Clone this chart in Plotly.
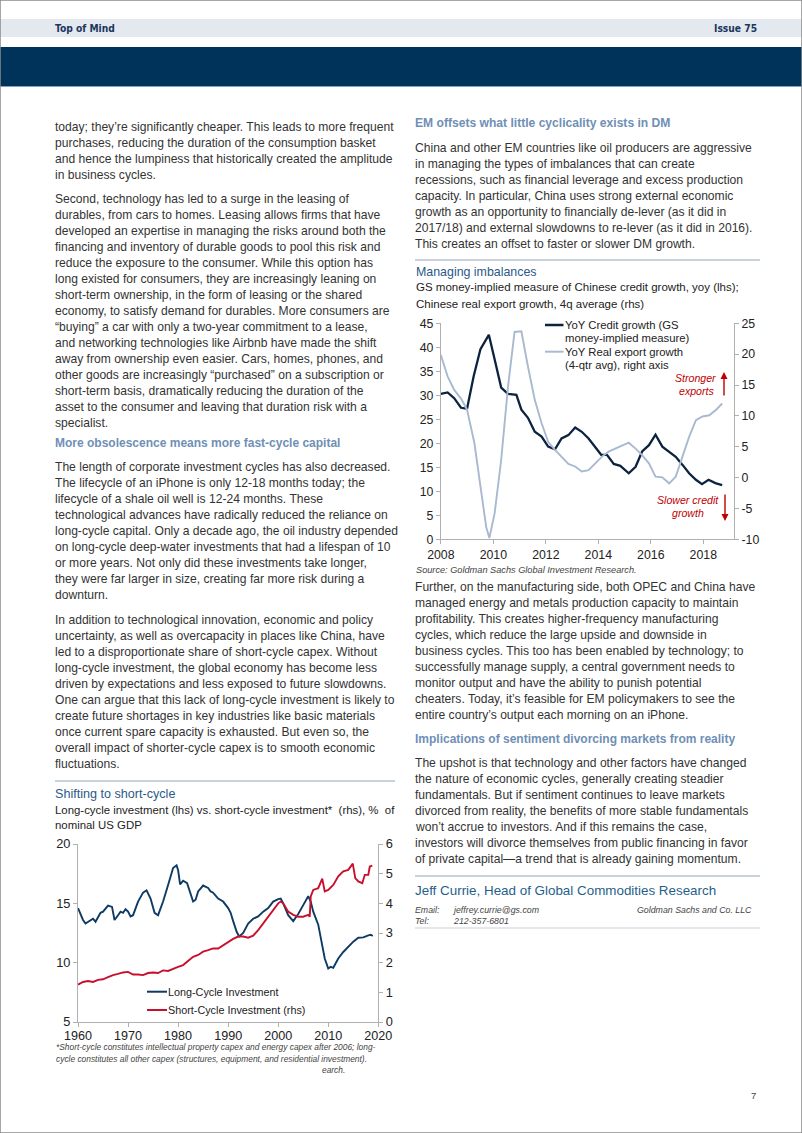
import plotly.graph_objects as go

W, H = 802, 1133
def X(px): return px / W
def Y(py): return 1 - py / H

# ---------------- data: chart 1 (Managing imbalances) ----------------
credit_x = [2008.00, 2008.26, 2008.51, 2008.77, 2009.00, 2009.25, 2009.51, 2009.66, 2009.83,
            2010.05, 2010.30, 2010.56, 2010.88, 2011.07, 2011.32, 2011.58, 2011.84, 2012.09,
            2012.35, 2012.60, 2012.86, 2013.12, 2013.37, 2013.63, 2013.88, 2014.11, 2014.33,
            2014.59, 2014.84, 2015.16, 2015.42, 2015.67, 2015.93, 2016.18, 2016.44, 2016.70,
            2016.95, 2017.21, 2017.46, 2017.72, 2017.95, 2018.20, 2018.46, 2018.72]
credit_growth = [30.3, 30.6, 29.4, 27.4, 27.2, 33.9, 39.6, 41.0, 42.6,
                 37.5, 31.6, 30.3, 30.1, 27.0, 25.3, 22.4, 21.4, 19.3,
                 18.75, 21.0, 21.7, 23.3, 22.4, 21.0, 19.3, 17.6, 17.6,
                 15.7, 15.3, 13.75, 15.1, 18.3, 19.6, 21.8, 19.3, 18.3,
                 17.2, 15.5, 13.75, 12.4, 11.5, 12.4, 11.7, 11.3]
export_x = [2008.00, 2008.26, 2008.51, 2008.77, 2009.00, 2009.28, 2009.53, 2009.73, 2009.85,
            2010.05, 2010.30, 2010.56, 2010.81, 2011.07, 2011.32, 2011.58, 2011.84, 2012.09,
            2012.35, 2012.60, 2012.86, 2013.12, 2013.37, 2013.63, 2013.88, 2014.14, 2014.39,
            2014.65, 2014.91, 2015.16, 2015.42, 2015.67, 2015.93, 2016.18, 2016.44, 2016.70,
            2016.95, 2017.21, 2017.46, 2017.72, 2017.97, 2018.23, 2018.49, 2018.72]
export_growth = [19.9, 16.4, 14.2, 12.8, 11.0, 5.6, -2.0, -8.0, -9.8,
                 -5.8, 2.85, 14.7, 23.6, 23.7, 18.0, 12.6, 8.8, 5.8,
                 4.5, 3.4, 2.2, 1.8, 1.0, 1.2, 2.3, 3.4, 4.2,
                 4.7, 5.3, 5.65, 4.7, 3.65, 2.3, 0.15, 0.04, -0.93,
                 0.15, 3.4, 6.6, 9.3, 9.9, 10.1, 11.0, 12.0]
c1_xticks = [2008, 2010, 2012, 2014, 2016, 2018]
c1_xticklabels = ["2008", "2010", "2012", "2014", "2016", "2018"]
c1_lticks = [0, 5, 10, 15, 20, 25, 30, 35, 40, 45]
c1_lticklabels = ["0", "5", "10", "15", "20", "25", "30", "35", "40", "45"]
c1_rticks = [-10, -5, 0, 5, 10, 15, 20, 25]
c1_rticklabels = ["-10", "-5", "0", "5", "10", "15", "20", "25"]

# ---------------- data: chart 2 (Shifting to short-cycle) ----------------
long_x = [1960, 1961, 1961.5, 1962.5, 1963, 1963.5, 1964.5, 1965, 1966, 1966.8, 1967.3, 1968,
          1968.5, 1969, 1969.5, 1970, 1970.5, 1971, 1972, 1973, 1973.7, 1974.5, 1975.3, 1976,
          1977, 1978, 1979, 1979.7, 1980, 1980.4, 1981, 1981.8, 1982.5, 1983, 1983.5, 1984,
          1985, 1986, 1986.5, 1987, 1988, 1989, 1990, 1990.5, 1991, 1991.7, 1992.2, 1993,
          1994, 1995, 1996, 1997, 1998, 1999, 2000, 2000.5, 2001, 2002, 2003, 2004, 2005,
          2006, 2006.5, 2007, 2008, 2008.7, 2009.3, 2010, 2010.5, 2011, 2012, 2013, 2014,
          2015, 2016, 2017, 2018, 2018.5, 2018.9]
long_cycle = [14.6, 13.6, 13.3, 13.6, 13.7, 13.45, 14.2, 14.3, 14.8, 14.7, 13.6, 14.0,
              14.3, 14.2, 14.5, 14.3, 13.9, 14.0, 15.15, 15.9, 16.1, 15.4, 14.2, 14.0,
              15.15, 16.55, 17.97, 18.2, 17.8, 16.6, 16.9, 16.7, 15.7, 15.15, 15.3, 16.0,
              16.5, 16.3, 16.0, 15.9, 15.4, 15.15, 14.6, 14.2, 13.5, 12.6, 12.2, 12.5,
              13.3, 13.7, 13.9, 14.3, 14.6, 15.15, 15.35, 15.4, 15.0, 14.0, 13.5, 14.1, 14.85,
              15.6, 15.15, 14.3, 13.2, 11.8, 10.35, 9.5, 9.65, 9.57, 10.35, 10.9, 11.35,
              11.77, 12.1, 12.13, 12.3, 12.35, 12.25]
short_x = [1960, 1961, 1962, 1963, 1964, 1965, 1966, 1967, 1968, 1969, 1970, 1971, 1972, 1973,
           1974, 1975, 1976, 1977, 1978, 1979, 1980, 1981, 1982, 1983, 1984, 1985, 1986, 1987,
           1988, 1989, 1990, 1991, 1992, 1993, 1994, 1995, 1996, 1997, 1998, 1999, 2000, 2000.5,
           2001, 2002, 2003, 2004, 2005, 2006, 2006.3, 2006.5, 2007, 2008, 2008.8, 2009.3, 2010,
           2011, 2012, 2013, 2014, 2014.9, 2015.4, 2016, 2016.8, 2017.3, 2018, 2018.3, 2018.8]
short_cycle = [1.26, 1.35, 1.38, 1.35, 1.42, 1.44, 1.51, 1.58, 1.62, 1.67, 1.69, 1.60, 1.60, 1.58,
               1.65, 1.67, 1.65, 1.74, 1.72, 1.80, 1.86, 1.92, 2.05, 2.20, 2.26, 2.37, 2.42, 2.48,
               2.48, 2.59, 2.71, 2.80, 2.88, 2.88, 2.84, 2.91, 3.10, 3.33, 3.52, 3.78, 4.0, 4.06,
               4.0, 3.72, 3.61, 3.55, 3.55, 3.61, 3.55, 4.23, 4.45, 4.51, 4.83, 4.40, 4.45,
               4.62, 4.91, 5.08, 5.13, 5.34, 4.85, 4.74, 4.68, 4.96, 4.96, 5.24, 5.27]
c2_xticks = [1960, 1970, 1980, 1990, 2000, 2010, 2020]
c2_xticklabels = ["1960", "1970", "1980", "1990", "2000", "2010", "2020"]
c2_lticks = [5, 10, 15, 20]
c2_lticklabels = ["5", "10", "15", "20"]
c2_rticks = [0, 1, 2, 3, 4, 5, 6]
c2_rticklabels = ["0", "1", "2", "3", "4", "5", "6"]

# ---------------- page text ----------------
left_p1 = ["today; they\u2019re significantly cheaper. This leads to more frequent",
           "purchases, reducing the duration of the consumption basket",
           "and hence the lumpiness that historically created the amplitude",
           "in business cycles."]
left_p2 = ["Second, technology has led to a surge in the leasing of",
           "durables, from cars to homes. Leasing allows firms that have",
           "developed an expertise in managing the risks around both the",
           "financing and inventory of durable goods to pool this risk and",
           "reduce the exposure to the consumer. While this option has",
           "long existed for consumers, they are increasingly leaning on",
           "short-term ownership, in the form of leasing or the shared",
           "economy, to satisfy demand for durables. More consumers are",
           "\u201cbuying\u201d a car with only a two-year commitment to a lease,",
           "and networking technologies like Airbnb have made the shift",
           "away from ownership even easier. Cars, homes, phones, and",
           "other goods are increasingly \u201cpurchased\u201d on a subscription or",
           "short-term basis, dramatically reducing the duration of the",
           "asset to the consumer and leaving that duration risk with a",
           "specialist."]
left_h1 = "More obsolescence means more fast-cycle capital"
left_p3 = ["The length of corporate investment cycles has also decreased.",
           "The lifecycle of an iPhone is only 12-18 months today; the",
           "lifecycle of a shale oil well is 12-24 months. These",
           "technological advances have radically reduced the reliance on",
           "long-cycle capital. Only a decade ago, the oil industry depended",
           "on long-cycle deep-water investments that had a lifespan of 10",
           "or more years. Not only did these investments take longer,",
           "they were far larger in size, creating far more risk during a",
           "downturn."]
left_p4 = ["In addition to technological innovation, economic and policy",
           "uncertainty, as well as overcapacity in places like China, have",
           "led to a disproportionate share of short-cycle capex. Without",
           "long-cycle investment, the global economy has become less",
           "driven by expectations and less exposed to future slowdowns.",
           "One can argue that this lack of long-cycle investment is likely to",
           "create future shortages in key industries like basic materials",
           "once current spare capacity is exhausted. But even so, the",
           "overall impact of shorter-cycle capex is to smooth economic",
           "fluctuations."]
right_h1 = "EM offsets what little cyclicality exists in DM"
right_p1 = ["China and other EM countries like oil producers are aggressive",
            "in managing the types of imbalances that can create",
            "recessions, such as financial leverage and excess production",
            "capacity. In particular, China uses strong external economic",
            "growth as an opportunity to financially de-lever (as it did in",
            "2017/18) and external slowdowns to re-lever (as it did in 2016).",
            "This creates an offset to faster or slower DM growth."]
right_p2 = ["Further, on the manufacturing side, both OPEC and China have",
            "managed energy and metals production capacity to maintain",
            "profitability. This creates higher-frequency manufacturing",
            "cycles, which reduce the large upside and downside in",
            "business cycles. This too has been enabled by technology; to",
            "successfully manage supply, a central government needs to",
            "monitor output and have the ability to punish potential",
            "cheaters. Today, it\u2019s feasible for EM policymakers to see the",
            "entire country\u2019s output each morning on an iPhone."]
right_h2 = "Implications of sentiment divorcing markets from reality"
right_p3 = ["The upshot is that technology and other factors have changed",
            "the nature of economic cycles, generally creating steadier",
            "fundamentals. But if sentiment continues to leave markets",
            "divorced from reality, the benefits of more stable fundamentals",
            "won\u2019t accrue to investors. And if this remains the case,",
            "investors will divorce themselves from public financing in favor",
            "of private capital\u2014a trend that is already gaining momentum."]

c1_title = "Managing imbalances"
c1_sub = ["GS money-implied measure of Chinese credit growth, yoy (lhs);",
          "Chinese real export growth, 4q average (rhs)"]
c1_leg1 = ["YoY Credit growth (GS", "money-implied measure)"]
c1_leg2 = ["YoY Real export growth", "(4-qtr avg), right axis"]
c1_source = "Source: Goldman Sachs Global Investment Research."
c2_title = "Shifting to short-cycle"
c2_sub = ["Long-cycle investment (lhs) vs. short-cycle investment*  (rhs), %  of",
          "nominal US GDP"]
c2_leg = ["Long-Cycle Investment", "Short-Cycle Investment (rhs)"]
c2_foot = ["*Short-cycle constitutes intellectual property capex and energy capex after 2006; long-",
           "cycle constitutes all other capex (structures, equipment, and residential investment)."]

# ---------------- styles ----------------
FONT = "Liberation Sans, Arial, Helvetica, sans-serif"
COND = "DejaVu Sans Condensed, Liberation Sans, sans-serif"
BODY = "#333333"
HEAD = "#6f8fb6"
TITLE = "#2b5a88"
NAVY = "#0c2340"
LIGHT = "#a9b9d0"
DBLUE = "#0e3a64"
RED = "#c8102e"
AX = "#b0b0b0"
ARROW_RED = "#c00000"
BODY_SIZE = 12.1
LX = 53    # left column text x
RX = 413   # right column text x

fig = go.Figure()

fig.add_trace(go.Scatter(x=credit_x, y=credit_growth, mode="lines", name="YoY Credit growth",
                         line=dict(color=NAVY, width=2.3), xaxis="x", yaxis="y"))
fig.add_trace(go.Scatter(x=export_x, y=export_growth, mode="lines", name="YoY Real export growth",
                         line=dict(color=LIGHT, width=1.9), xaxis="x", yaxis="y2"))
fig.add_trace(go.Scatter(x=long_x, y=long_cycle, mode="lines", name="Long-Cycle Investment",
                         line=dict(color=DBLUE, width=1.9), xaxis="x2", yaxis="y3"))
fig.add_trace(go.Scatter(x=short_x, y=short_cycle, mode="lines", name="Short-Cycle Investment (rhs)",
                         line=dict(color=RED, width=1.9), xaxis="x2", yaxis="y4"))

def axis(size, **kw):
    d = dict(showgrid=False, zeroline=False, showline=True, linecolor=AX, linewidth=1,
             ticks="outside", ticklen=4, tickcolor=AX, automargin=False, fixedrange=True,
             tickfont=dict(family=FONT, size=size, color="#222222"))
    d.update(kw)
    return d

fig.update_layout(
    template="none",
    width=W, height=H, margin=dict(l=0, r=0, t=0, b=0, pad=0, autoexpand=False),
    paper_bgcolor="white", plot_bgcolor="rgba(0,0,0,0)", showlegend=False,
    font=dict(family=FONT),
    xaxis=axis(12.3, domain=[X(440.8), X(734)], range=[2008, 2019.17], anchor="y",
               tickvals=c1_xticks, ticktext=c1_xticklabels),
    yaxis=axis(12.3, domain=[Y(539.3), Y(323.3)], range=[0, 45], anchor="x",
               tickvals=c1_lticks, ticktext=c1_lticklabels),
    yaxis2=axis(12.3, range=[-10, 25], anchor="x", overlaying="y", side="right",
                tickvals=c1_rticks, ticktext=c1_rticklabels),
    xaxis2=axis(12.6, domain=[X(78), X(378.3)], range=[1960, 2020], anchor="y3",
                tickvals=c2_xticks, ticktext=c2_xticklabels, ticklabelstandoff=-2),
    yaxis3=axis(12.8, domain=[Y(1022), Y(844)], range=[5, 20], anchor="x2",
                tickvals=c2_lticks, ticktext=c2_lticklabels),
    yaxis4=axis(12.8, range=[0, 6], anchor="x2", overlaying="y3", side="right",
                tickvals=c2_rticks, ticktext=c2_rticklabels),
)

shapes = []
annots = []

def rect(x0, y0, x1, y1, color):
    shapes.append(dict(type="rect", xref="paper", yref="paper", x0=X(x0), x1=X(x1), y0=Y(y1), y1=Y(y0),
                       fillcolor=color, line=dict(width=0), layer="below"))

def hline(x0, x1, y, color, width=1.5):
    shapes.append(dict(type="line", xref="paper", yref="paper", x0=X(x0), x1=X(x1), y0=Y(y), y1=Y(y),
                       line=dict(color=color, width=width)))

def text(x, y, s, size=BODY_SIZE, color=BODY, anchor="left", family=FONT, align="left"):
    annots.append(dict(xref="paper", yref="paper", x=X(x), y=Y(y), text=s, showarrow=False,
                       xanchor=anchor, yanchor="middle", align=align,
                       font=dict(family=family, size=size, color=color)))

def para(x, y0, lines, step=16.0, **kw):
    for i, ln in enumerate(lines):
        text(x, y0 + i * step, ln, **kw)

# header
rect(0, 19, W, 37, "#e4e9f0")
rect(0, 47, W, 86, "#00335a")
hline(0, W, 86.5, "#7fa3c4", 1)
text(53, 28, "<b>Top of Mind</b>", size=10.2, color="#1b365d", family=COND)
text(759, 28, "<b>Issue 75</b>", size=10.2, color="#1b365d", family=COND, anchor="right")
# page border
shapes.append(dict(type="rect", xref="paper", yref="paper", x0=0, x1=1, y0=0, y1=1,
                   line=dict(color="#8a8a8a", width=1.5), fillcolor="rgba(0,0,0,0)"))

# left column
para(LX, 127, left_p1)
para(LX, 199, left_p2)
text(LX, 443, "<b>" + left_h1 + "</b>", size=12.0, color=HEAD)
para(LX, 467, left_p3)
para(LX, 620, left_p4)

# chart 2 heading
hline(55, 395, 781, "#b6c3d1", 1.5)
text(LX, 794, c2_title, size=12.6, color=TITLE)
para(LX, 809.5, c2_sub, step=16, size=11.4, color="#222222")
# chart 2 legend
shapes.append(dict(type="line", xref="paper", yref="paper", x0=X(147), x1=X(167), y0=Y(991.7), y1=Y(991.7),
                   line=dict(color=DBLUE, width=2)))
shapes.append(dict(type="line", xref="paper", yref="paper", x0=X(147), x1=X(167), y0=Y(1010), y1=Y(1010),
                   line=dict(color=RED, width=2)))
text(166, 991.7, c2_leg[0], size=10.8, color="#222222")
text(166, 1010, c2_leg[1], size=10.8, color="#222222")
para(54, 1046.5, ["<i>" + s + "</i>" for s in c2_foot], step=12, size=8.4, color="#444444")
text(320, 1069.5, "<i>earch.</i>", size=8.4, color="#444444")

# right column
text(RX, 123, "<b>" + right_h1 + "</b>", size=12.1, color=HEAD)
para(RX, 148, right_p1)
hline(415, 760, 260, "#b6c3d1", 1.5)
text(RX + 1, 272, c1_title, size=12.4, color=TITLE)
para(RX + 1, 287.5, c1_sub, step=16, size=11.5, color="#222222")

# chart 1 legend
shapes.append(dict(type="line", xref="paper", yref="paper", x0=X(545), x1=X(563.5), y0=Y(325), y1=Y(325),
                   line=dict(color=NAVY, width=2.5)))
shapes.append(dict(type="line", xref="paper", yref="paper", x0=X(545), x1=X(563.5), y0=Y(351.7), y1=Y(351.7),
                   line=dict(color=LIGHT, width=2)))
para(563, 325, c1_leg1, step=13.3, size=11.3, color="#222222")
para(563, 351.7, c1_leg2, step=13.0, size=11.3, color="#222222")

# chart 1 annotations
text(718, 378.5, "<i>Stronger</i>", size=10.6, color=ARROW_RED, anchor="right")
text(716, 391.5, "<i>exports</i>", size=10.6, color=ARROW_RED, anchor="right")
text(687.5, 500, "<i>Slower credit</i>", size=10.6, color=ARROW_RED, anchor="center")
text(687.5, 512.5, "<i>growth</i>", size=10.6, color=ARROW_RED, anchor="center")
annots.append(dict(xref="paper", yref="paper", x=X(724), y=Y(372), text="", showarrow=True,
                   ax=0, ay=25, arrowhead=2, arrowsize=1, arrowwidth=1.4, arrowcolor=ARROW_RED))
annots.append(dict(xref="paper", yref="paper", x=X(725), y=Y(521), text="", showarrow=True,
                   ax=0, ay=-28, arrowhead=2, arrowsize=1, arrowwidth=1.4, arrowcolor=ARROW_RED))

text(RX + 1, 569.5, "<i>" + c1_source + "</i>", size=9.2, color="#444444")
para(RX, 587, right_p2)
text(RX, 739, "<b>" + right_h2 + "</b>", size=12.0, color=HEAD)
para(RX, 763, right_p3)
hline(415, 760, 876, "#b6c3d1", 1.5)
text(RX, 890, "Jeff Currie, Head of Global Commodities Research", size=13.4, color="#1f5f8b")
text(RX, 910, "<i>Email:</i>", size=8.8, color="#444444")
text(451, 910, "<i>jeffrey.currie@gs.com</i>", size=8.8, color="#444444")
text(754, 910, "<i>Goldman Sachs and Co. LLC</i>", size=8.8, color="#444444", anchor="right")
text(RX, 921, "<i>Tel:</i>", size=8.8, color="#444444")
text(451, 921, "<i>212-357-6801</i>", size=8.8, color="#444444")
hline(415, 760, 928, "#c9d1da", 1)

# page number
text(758, 1095, "7", size=9.5, color="#444444", anchor="right")

fig.update_layout(shapes=shapes, annotations=annots)
fig.write_html("out.html", config={"displayModeBar": False},
               post_script="document.body.style.margin='0';document.body.style.overflow='hidden';")
